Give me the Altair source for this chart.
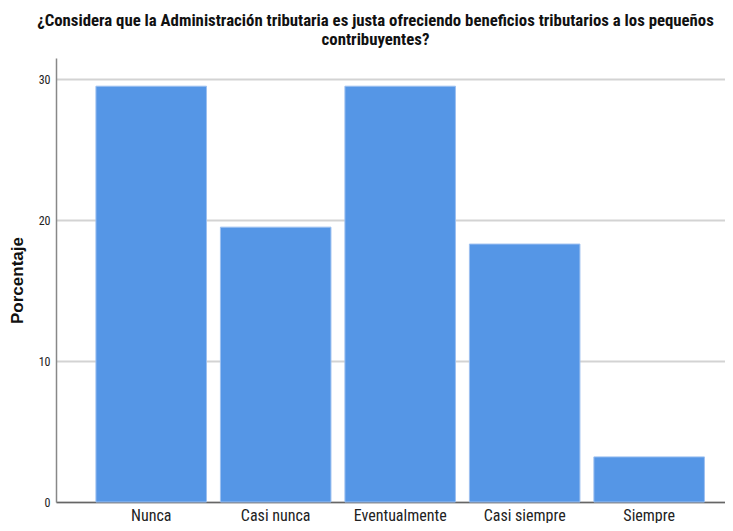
import altair as alt
import pandas as pd

categorias = ["Nunca", "Casi nunca", "Eventualmente", "Casi siempre", "Siempre"]
porcentajes = [29.5, 19.5, 29.5, 18.3, 3.2]
ticks_y = [0, 10, 20, 30]

df = pd.DataFrame({"categoria": categorias, "porcentaje": porcentajes})

FONT = "Liberation Sans Narrow, Arial Narrow, Roboto Condensed, Liberation Sans, sans-serif"

chart = (
    alt.Chart(df)
    .mark_bar(color="#5596E6", stroke="#9DC0F0", strokeWidth=1)
    .encode(
        x=alt.X(
            "categoria:N",
            sort=categorias,
            title=None,
            scale=alt.Scale(paddingInner=0.112, paddingOuter=0.243, align=0.66),
            axis=alt.Axis(
                labelAngle=0,
                labelFont=FONT,
                labelFontSize=16,
                labelColor="#222222",
                ticks=False,
                labelPadding=5,
                domainColor="#666666",
                domainWidth=1.5,
            ),
        ),
        y=alt.Y(
            "porcentaje:Q",
            title="Porcentaje",
            scale=alt.Scale(domain=[0, 31.5], nice=False),
            axis=alt.Axis(
                values=ticks_y,
                ticks=False,
                labelFont=FONT,
                labelFontSize=12,
                labelColor="#222222",
                labelPadding=6,
                titleFont="Liberation Sans, Arial, sans-serif",
                titleFontSize=17,
                titleFontWeight="bold",
                titleColor="#111111",
                titlePadding=12,
                gridColor="#D3D3D3",
                gridWidth=2,
                domainColor="#888888",
                domainWidth=1.5,
            ),
        ),
    )
    .properties(
        width=669,
        height=444,
        autosize=alt.AutoSizeParams(type="none"),
        padding={"left": 48, "top": 50, "right": 0, "bottom": 21},
        title=alt.TitleParams(
            text=[
                "¿Considera que la Administración tributaria es justa ofreciendo  beneficios tributarios a los pequeños",
                "contribuyentes?",
            ],
            font=FONT,
            fontSize=16.8,
            fontWeight="bold",
            color="#111111",
            anchor="middle",
            dx=-15,
            offset=9,
            lineHeight=19,
        ),
    )
    .configure_view(stroke=None)
)

chart.save("out.html", embed_options={"renderer": "svg", "actions": False})
